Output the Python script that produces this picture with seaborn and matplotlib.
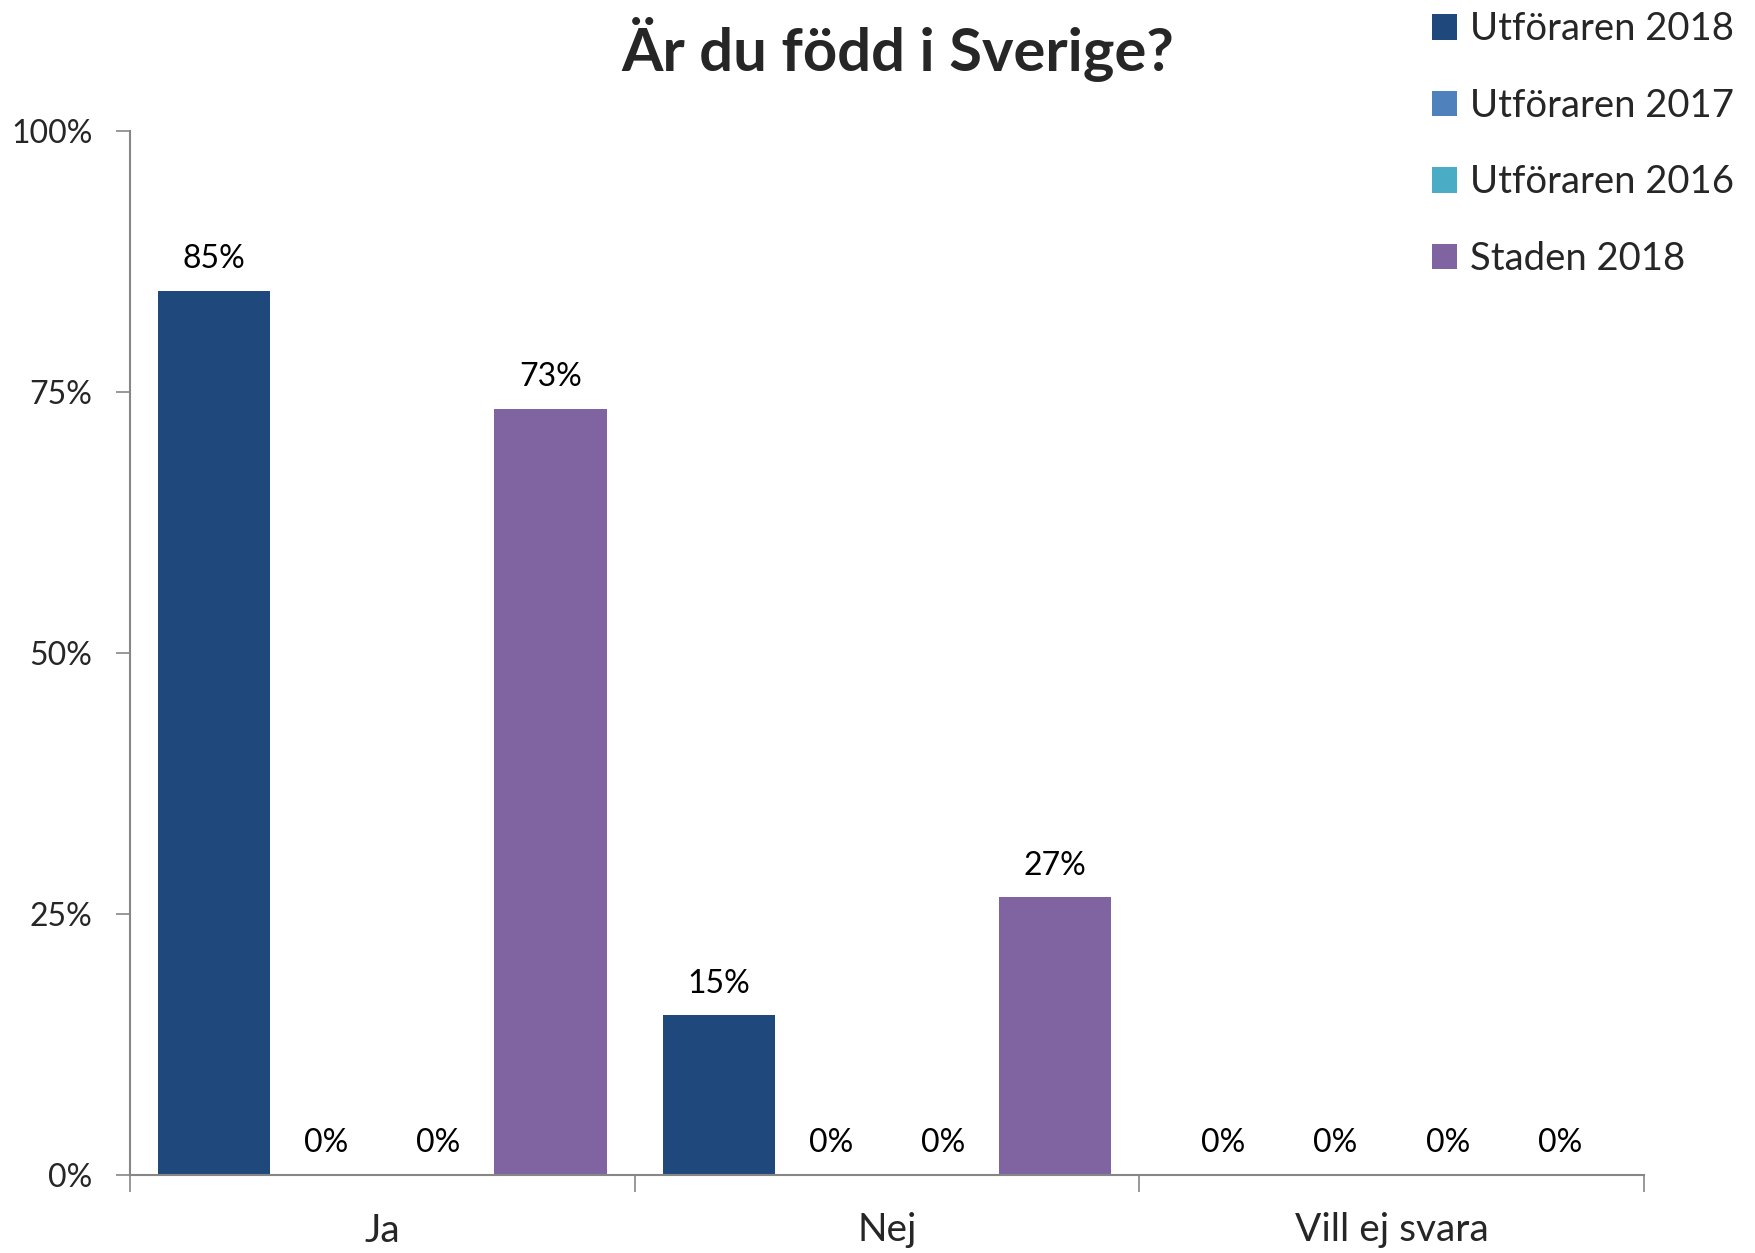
import matplotlib
matplotlib.use("Agg")
import matplotlib.pyplot as plt
import seaborn as sns
import pandas as pd
from matplotlib.ticker import FixedLocator, NullFormatter
from matplotlib.patches import Patch

categories = ["Ja", "Nej", "Vill ej svara"]
series = ["Utföraren 2018", "Utföraren 2017", "Utföraren 2016", "Staden 2018"]
values = {
    "Utföraren 2018": [84.7, 15.3, 0.0],
    "Utföraren 2017": [0.0, 0.0, 0.0],
    "Utföraren 2016": [0.0, 0.0, 0.0],
    "Staden 2018": [73.4, 26.6, 0.0],
}
colors = ["#1F497D", "#4F81BD", "#4BACC6", "#8064A2"]
yticks = [0, 25, 50, 75, 100]
title = "Är du född i Sverige?"

rows = []
for s in series:
    for c, v in zip(categories, values[s]):
        rows.append({"cat": c, "series": s, "val": v})
df = pd.DataFrame(rows)

sns.set_theme(style="white")
plt.rcParams["font.family"] = ["Lato", "DejaVu Sans"]

fig = plt.figure(figsize=(17.56, 12.53), dpi=100)
ax = fig.add_axes([130 / 1756, 1 - 1175 / 1253, (1644 - 130) / 1756, (1175 - 131) / 1253])

sns.barplot(data=df, x="cat", y="val", hue="series", hue_order=series, order=categories,
            palette=colors, width=0.889, gap=0, linewidth=0, saturation=1,
            errorbar=None, ax=ax, legend=False)

for cont, s in zip(ax.containers, series):
    ax.bar_label(cont, labels=[f"{v:.0f}%" for v in values[s]], padding=12,
                 fontsize=23, color="black")

ax.set_xlim(-0.5, 2.5)
ax.set_ylim(0, 100)
ax.set_yticks(yticks)
ax.set_yticklabels([f"{t}%" for t in yticks], fontsize=23)
ax.set_xlabel("")
ax.set_ylabel("")
ax.set_xticks(range(len(categories)))
ax.set_xticklabels(categories, fontsize=28)
ax.xaxis.set_minor_locator(FixedLocator([-0.5, 0.5, 1.5, 2.5]))
ax.xaxis.set_minor_formatter(NullFormatter())
ax.tick_params(axis="x", which="major", length=0, pad=27)
ax.tick_params(axis="x", which="minor", length=12, width=1.2, color="#868686", direction="out", bottom=True)
ax.tick_params(axis="y", length=10, width=1.2, color="#868686", direction="out", left=True, pad=17)

for side in ["top", "right"]:
    ax.spines[side].set_visible(False)
for side in ["left", "bottom"]:
    ax.spines[side].set_color("#868686")
    ax.spines[side].set_linewidth(1.5)

fig.text(898 / 1756, 1 - 50 / 1253, title, fontsize=43, fontweight="bold",
         ha="center", va="center")

handles = [Patch(facecolor=c, edgecolor="none") for c in colors]
fig.legend(handles, series, loc="upper left", bbox_to_anchor=(1416.5 / 1756, 1 + 4 / 1253),
           frameon=False, fontsize=27.5, handlelength=0.65, handleheight=0.65,
           handletextpad=0.35, labelspacing=1.06, borderaxespad=0)

fig.savefig("out.png", dpi=100)
